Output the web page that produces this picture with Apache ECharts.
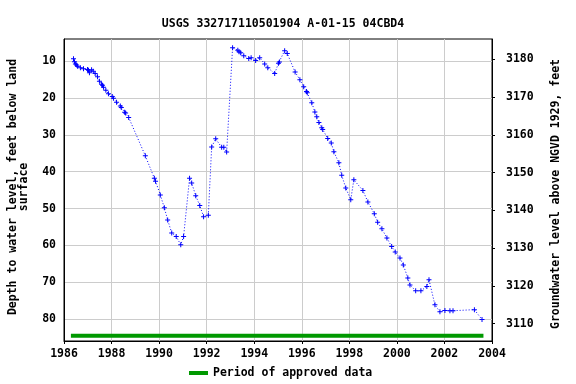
<!DOCTYPE html>
<html><head><meta charset="utf-8">
<script src="https://cdn.jsdelivr.net/npm/echarts@6/dist/echarts.min.js"></script>
<style>html,body{margin:0;padding:0;background:#fff}#c{width:576px;height:384px}</style>
</head><body><div id="c"></div>
<script>
var years = [1986.40,1986.44,1986.48,1986.53,1986.57,1986.69,1986.82,1986.99,1987.03,1987.07,1987.16,1987.23,1987.31,1987.41,1987.49,1987.58,1987.62,1987.66,1987.76,1987.87,1988.03,1988.08,1988.21,1988.37,1988.41,1988.55,1988.59,1988.72,1989.42,1989.80,1989.85,1990.05,1990.22,1990.36,1990.53,1990.72,1990.91,1991.03,1991.28,1991.37,1991.54,1991.71,1991.87,1992.07,1992.21,1992.38,1992.63,1992.72,1992.84,1993.09,1993.31,1993.36,1993.43,1993.56,1993.77,1993.87,1994.06,1994.23,1994.44,1994.57,1994.86,1995.02,1995.06,1995.28,1995.39,1995.72,1995.92,1996.08,1996.20,1996.23,1996.42,1996.55,1996.63,1996.72,1996.84,1996.88,1997.09,1997.24,1997.35,1997.56,1997.68,1997.85,1998.06,1998.19,1998.57,1998.78,1999.05,1999.19,1999.37,1999.58,1999.78,1999.93,2000.13,2000.27,2000.46,2000.55,2000.79,2001.01,2001.26,2001.35,2001.60,2001.81,2002.02,2002.23,2002.36,2003.26,2003.58];
var depths = [9.4,10.2,10.8,11.1,11.4,11.8,12.1,12.3,12.5,13.2,12.4,12.8,13.4,14.3,15.5,16.3,16.6,17.1,17.9,18.9,19.6,20.1,21.2,22.2,22.6,23.9,24.1,25.3,35.7,41.8,42.6,46.3,49.8,53.1,56.6,57.6,59.8,57.6,41.8,43.1,46.5,49.2,52.2,51.8,33.3,31.1,33.4,33.4,34.7,6.4,7.1,7.5,7.8,8.6,9.3,9.1,9.9,9.1,10.8,11.8,13.4,10.6,10.3,7.2,8.0,13.0,15.1,17.0,18.3,18.6,21.3,23.8,25.1,26.7,28.1,28.6,31.0,32.2,34.6,37.6,41.0,44.4,47.6,42.2,45.1,48.2,51.4,53.7,55.5,58.0,60.3,61.8,63.4,65.3,68.8,70.7,72.3,72.3,71.1,69.3,76.1,78.0,77.6,77.7,77.7,77.4,80.1];
var approvedYears = [1986.29, 2003.64];
var approvedDepth = [84.5, 84.5];
var depthTicks = [10,20,30,40,50,60,70,80];
var elevTicks = [3110,3120,3130,3140,3150,3160,3170,3180];
var xTicks = [1986,1988,1990,1992,1994,1996,1998,2000,2002,2004];

var FONT = 'DejaVu Sans Mono';
var chart = echarts.init(document.getElementById('c'), null, {renderer:'canvas'});
var pts = years.map(function(y,i){return [y, depths[i]];});
var appr = approvedYears.map(function(y,i){return [y, approvedDepth[i]];});
var plus = 'path://M1.6,0h0.8v4h-0.8z M0,1.6h4v0.8h-4z';
chart.setOption({
  animation:false,
  title:{text:'USGS 332717110501904 A-01-15 04CBD4', left:278, top:13, textAlign:'center',
    textStyle:{fontFamily:FONT, fontSize:11.5, fontWeight:'bold', color:'#000'}},
  grid:{left:64, right:84, top:39, bottom:43, show:true, borderColor:'#000', borderWidth:1, backgroundColor:'transparent'},
  legend:{data:['Period of approved data'], left:184, top:362, icon:'rect', itemWidth:19, itemHeight:4, itemGap:6,
    textStyle:{fontFamily:FONT, fontSize:11.5, fontWeight:'bold', color:'#000', padding:[0,0,0,0]}},
  xAxis:{type:'value', min:1986, max:2004, interval:2,
    axisLine:{show:true, lineStyle:{color:'#000'}},
    axisTick:{show:true, length:3, lineStyle:{color:'#000'}},
    axisLabel:{fontFamily:FONT, fontSize:11.5, fontWeight:'bold', color:'#000', margin:7,
      customValues: xTicks, formatter:function(v){return String(Math.round(v));}},
    splitLine:{show:true, lineStyle:{color:'#cccccc', width:1}}},
  yAxis:[
    {type:'value', inverse:true, min:4.04, max:85.9, position:'left',
      axisLine:{show:true, lineStyle:{color:'#000'}},
      axisTick:{show:false, customValues: depthTicks},
      axisLabel:{fontFamily:FONT, fontSize:11.5, fontWeight:'bold', color:'#000', margin:8, customValues: depthTicks,
        formatter:function(v){return String(Math.round(v));}},
      splitLine:{show:true, lineStyle:{color:'#cccccc', width:1}}},
    {type:'value', min:3105.4, max:3185.4, position:'right',
      axisLine:{show:true, lineStyle:{color:'#000'}},
      axisTick:{show:true, length:3, inside:false, customValues: elevTicks, lineStyle:{color:'#000'}},
      axisLabel:{fontFamily:FONT, fontSize:11.5, fontWeight:'bold', color:'#000', margin:14, customValues: elevTicks,
        formatter:function(v){return String(Math.round(v));}},
      splitLine:{show:false}}
  ],
  graphic:[
    {type:'text', x:18.4, y:187, rotation:Math.PI/2,
      style:{text:'Depth to water level, feet below land\nsurface', fontFamily:FONT, fontSize:11.5, fontWeight:'bold',
        fill:'#000', align:'center', verticalAlign:'middle', lineHeight:11.5}},
    {type:'text', x:556, y:194, rotation:Math.PI/2,
      style:{text:'Groundwater level above NGVD 1929, feet', fontFamily:FONT, fontSize:11.5, fontWeight:'bold',
        fill:'#000', align:'center', verticalAlign:'middle'}}
  ],
  series:[
    {name:'depth', type:'line', data:pts, yAxisIndex:0, symbol:plus, symbolSize:5, showSymbol:true,
      itemStyle:{color:'#0000ff'}, lineStyle:{color:'#0000ff', width:1, type:[1,2]}},
    {name:'Period of approved data', type:'line', data:appr, yAxisIndex:0, symbol:'none',
      itemStyle:{color:'#009900'}, lineStyle:{color:'#009900', width:4}}
  ]
});
</script></body></html>
